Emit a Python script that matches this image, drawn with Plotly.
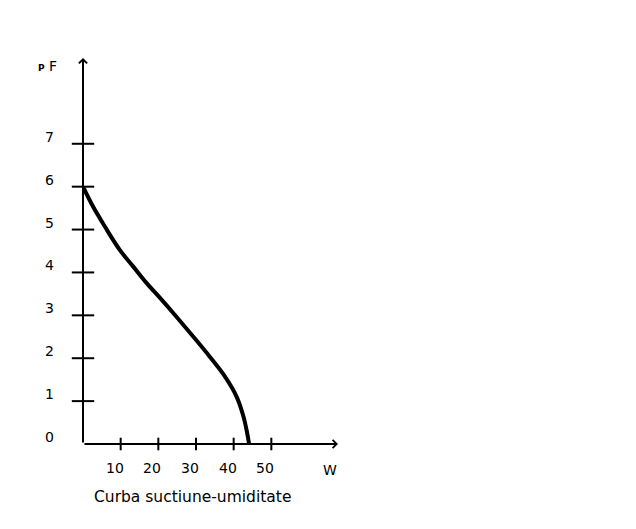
import plotly.graph_objects as go

# Curve: suction (pF) versus moisture (W)
w_vals = [0, 2.7, 5.8, 9.8, 13.4, 16.9, 20.5, 24.0, 29.3, 33.7, 37.7, 40.8, 42.6, 43.6, 44.1]
pf_vals = [6.0, 5.53, 5.07, 4.52, 4.13, 3.75, 3.40, 3.05, 2.50, 2.03, 1.57, 1.10, 0.64, 0.25, 0.0]

# Axis ticks and labels
x_ticks = [10, 20, 30, 40, 50]
x_labels = ["10", "20", "30", "40", "50"]
y_ticks = [1, 2, 3, 4, 5, 6, 7]
y_label_vals = [0, 1, 2, 3, 4, 5, 6, 7]
y_labels = ["0", "1", "2", "3", "4", "5", "6", "7"]

x_max = 67.7
y_max = 9.0
x_title = "W"
y_title = "<b><span style='font-size:9px'>P</span></b> F"
chart_title = "Curba suctiune-umiditate"

FONT = "DejaVu Sans"

fig = go.Figure()

fig.add_trace(go.Scatter(
    x=w_vals, y=pf_vals, mode="lines",
    line=dict(color="black", width=4, shape="spline"),
    cliponaxis=False, showlegend=False, hoverinfo="skip"))

fig.add_trace(go.Scatter(
    x=x_ticks, y=[0] * len(x_ticks), mode="markers",
    marker=dict(symbol="line-ns", size=9, line=dict(color="black", width=2)),
    cliponaxis=False, showlegend=False, hoverinfo="skip"))

fig.add_trace(go.Scatter(
    x=[0] * len(y_ticks), y=y_ticks, mode="markers",
    marker=dict(symbol="line-ew", size=16, line=dict(color="black", width=2)),
    cliponaxis=False, showlegend=False, hoverinfo="skip"))

annotations = []
# Axis arrows
annotations.append(dict(x=x_max, y=0, ax=0, ay=0, xref="x", yref="y", axref="x", ayref="y",
                        text="", showarrow=True, arrowhead=4, arrowwidth=2, arrowsize=0.8,
                        arrowcolor="black"))
annotations.append(dict(x=0, y=y_max, ax=0, ay=0, xref="x", yref="y", axref="x", ayref="y",
                        text="", showarrow=True, arrowhead=4, arrowwidth=2, arrowsize=0.8,
                        arrowcolor="black"))

for v, t in zip(x_ticks, x_labels):
    annotations.append(dict(x=v, y=0, xref="x", yref="y", text=t, showarrow=False,
                            xshift=-6, yshift=-24, font=dict(family=FONT, size=14, color="black")))
for v, t in zip(y_label_vals, y_labels):
    annotations.append(dict(x=0, y=v, xref="x", yref="y", text=t, showarrow=False,
                            xshift=-34, yshift=7, font=dict(family=FONT, size=14, color="black")))

annotations.append(dict(x=x_max, y=0, xref="x", yref="y", text=x_title, showarrow=False,
                        xshift=-8, yshift=-26, font=dict(family=FONT, size=14, color="black")))
annotations.append(dict(x=0, y=y_max, xref="x", yref="y", text=y_title, showarrow=False,
                        xshift=-36, yshift=-8, font=dict(family=FONT, size=14, color="black")))
annotations.append(dict(x=0.0, y=0, xref="paper", yref="y", text=chart_title, showarrow=False,
                        xanchor="center", xshift=109, yshift=-53,
                        font=dict(family=FONT, size=15.5, color="black")))

# The page body adds an 8px offset, so the margins are reduced by 8px on the top/left
fig.update_layout(
    width=636, height=529,
    margin=dict(l=75, r=306, t=50, b=93),
    paper_bgcolor="white", plot_bgcolor="white",
    xaxis=dict(range=[0, x_max], visible=False, fixedrange=True),
    yaxis=dict(range=[0, y_max], visible=False, fixedrange=True),
    annotations=annotations,
    showlegend=False,
)

fig.write_html("out.html")
